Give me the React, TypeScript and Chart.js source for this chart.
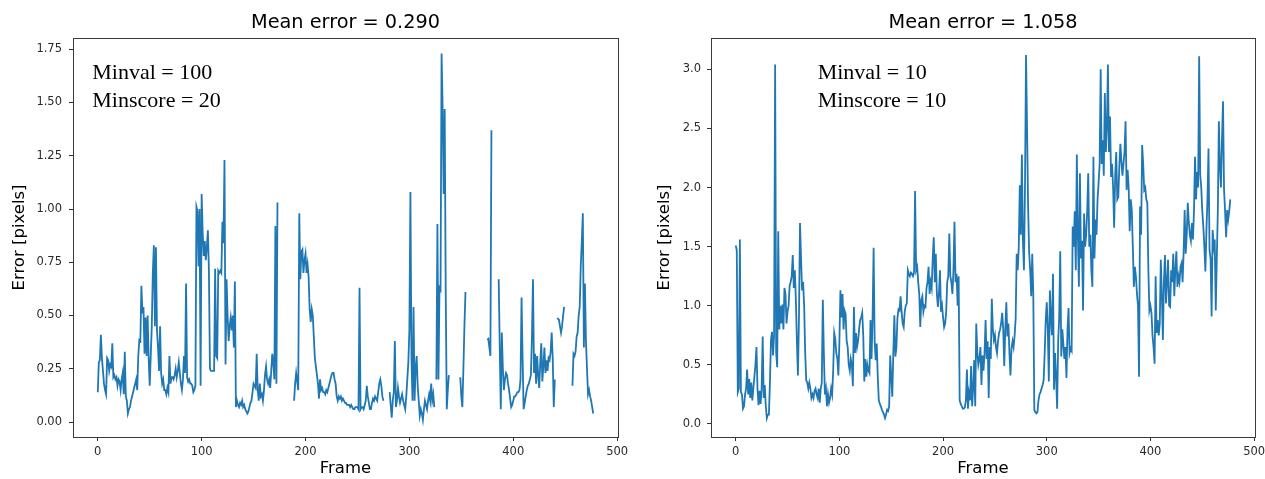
import React, { useEffect, useRef } from "react";
import { Chart, registerables } from "chart.js";

Chart.register(...registerables);
Chart.defaults.font.family = "'DejaVu Sans', sans-serif";

// ---- data (frame index = array index) ----
const leftError: (number | null)[] = [
  // 0
  0.14, 0.28, 0.29, 0.41, 0.30, 0.24, 0.18, 0.15, 0.13, 0.30,
  // 10
  0.29, 0.24, 0.27, 0.26, 0.37, 0.21, 0.22, 0.20, 0.21, 0.17,
  // 20
  0.20, 0.19, 0.15, 0.20, 0.23, 0.13, 0.33, 0.12, 0.10, 0.04,
  // 30
  0.06, 0.07, 0.10, 0.12, 0.14, 0.16, 0.18, 0.20, 0.15, 0.31,
  // 40
  0.385, 0.38, 0.64, 0.51, 0.54, 0.32, 0.49, 0.31, 0.50, 0.30,
  // 50
  0.17, 0.31, 0.45, 0.70, 0.83, 0.45, 0.82, 0.43, 0.35, 0.24,
  // 60
  0.45, 0.23, 0.18, 0.20, 0.15, 0.15, 0.13, 0.16, 0.14, 0.31,
  // 70
  0.18, 0.21, 0.21, 0.20, 0.22, 0.25, 0.21, 0.24, 0.28, 0.23,
  // 80
  0.18, 0.15, 0.20, 0.31, 0.23, 0.65, 0.21, 0.19, 0.20, 0.18,
  // 90
  0.18, 0.17, 0.14, 0.15, 0.17, 1.01, 0.99, 0.73, 1.00, 0.17,
  // 100
  1.07, 0.89, 0.78, 0.85, 0.76, 0.82, 0.90, 0.71, 0.25, 0.24,
  // 110
  0.24, 0.24, 0.24, 0.72, 0.31, 0.30, 0.71, 0.70, 0.71, 0.70,
  // 120
  0.94, 0.84, 1.23, 0.27, 0.67, 0.50, 0.38, 0.45, 0.49, 0.43,
  // 130
  0.50, 0.35, 0.66, 0.07, 0.10, 0.08, 0.07, 0.09, 0.08, 0.10,
  // 140
  0.07, 0.08, 0.06, 0.05, 0.04, 0.05, 0.07, 0.09, 0.10, 0.14,
  // 150
  0.18, 0.17, 0.16, 0.32, 0.15, 0.10, 0.18, 0.12, 0.13, 0.10,
  // 160
  0.15, 0.22, 0.26, 0.20, 0.18, 0.20, 0.16, 0.24, 0.32, 0.28,
  // 170
  0.20, 0.92, 0.18, 1.03, null, null, null, null, null, null,
  // 180
  null, null, null, null, null, null, null, null, null, 0.10,
  // 190
  0.18, 0.23, 0.19, 0.15, 0.98, 0.67, 0.80, 0.81, 0.70, 0.76,
  // 200
  0.79, 0.70, 0.74, 0.68, 0.53, 0.47, 0.53, 0.50, 0.40, 0.30,
  // 210
  0.26, 0.22, 0.18, 0.11, 0.20, 0.15, 0.16, 0.14, 0.14, 0.13,
  // 220
  0.15, 0.14, 0.16, 0.18, 0.20, 0.22, 0.23, 0.23, 0.20, 0.18,
  // 230
  0.12, 0.10, 0.12, 0.11, 0.12, 0.10, 0.11, 0.10, 0.09, 0.09,
  // 240
  0.08, 0.08, 0.08, 0.07, 0.08, 0.07, 0.06, 0.06, 0.07, 0.07,
  // 250
  0.07, 0.06, 0.63, 0.06, 0.07, 0.07, 0.06, 0.08, 0.10, 0.17,
  // 260
  0.12, 0.09, 0.06, 0.06, 0.09, 0.11, 0.10, 0.12, 0.11, 0.10,
  // 270
  0.14, 0.18, 0.20, 0.17, 0.12, 0.10, null, null, null, null,
  // 280
  null, 0.14, 0.08, 0.02, 0.10, 0.14, 0.38, 0.07, 0.10, 0.16,
  // 290
  0.12, 0.09, 0.11, 0.13, 0.10, 0.08, 0.06, 0.12, 0.20, 0.28,
  // 300
  0.43, 1.08, 0.30, 0.10, 0.54, 0.10, 0.25, 0.31, 0.17, 0.10,
  // 310
  0.03, 0.06, 0.04, 0.01, 0.06, 0.10, 0.08, 0.06, 0.10, 0.13,
  // 320
  0.10, 0.18, 0.10, 0.13, 0.07, null, 0.20, 0.93, 0.20, 0.63,
  // 330
  0.62, 1.73, 1.48, 1.07, 1.47, 0.60, 0.06, 0.15, 0.22, null,
  // 340
  null, null, null, null, null, null, null, null, null, 0.21,
  // 350
  0.12, 0.07, 0.25, 0.45, 0.61, null, null, null, null, null,
  // 360
  null, null, null, null, null, null, null, null, null, null,
  // 370
  null, null, null, null, null, 0.385, 0.39, 0.35, 0.31, 1.37,
  // 380
  null, null, null, null, null, null, 0.67, 0.35, 0.06, 0.42,
  // 390
  0.25, 0.15, 0.20, 0.23, 0.22, 0.18, 0.15, 0.11, 0.07, 0.08,
  // 400
  0.10, 0.12, 0.12, 0.13, 0.14, 0.14, 0.15, 0.20, 0.585, 0.30,
  // 410
  0.06, 0.09, 0.12, 0.15, 0.17, 0.18, 0.20, 0.22, 0.40, 0.67,
  // 420
  0.23, 0.32, 0.18, 0.31, 0.22, 0.16, 0.28, 0.37, 0.19, 0.26,
  // 430
  0.35, 0.23, 0.29, 0.24, 0.30, 0.29, 0.33, 0.42, 0.30, 0.07,
  // 440
  0.20, null, 0.487, 0.485, 0.48, 0.45, 0.42, 0.45, 0.50, 0.54,
  // 450
  null, null, null, null, null, null, null, 0.17, 0.32, 0.31,
  // 460
  0.33, 0.40, 0.42, 0.50, 0.54, 0.73, 0.85, 0.98, 0.35, 0.65,
  // 470
  0.38, 0.25, 0.13, 0.15, 0.12, 0.10, 0.07, 0.04,
];

const rightError: (number | null)[] = [
  // 0
  1.51, 1.47, 0.27, 0.30, 1.56, 0.27, 0.25, 0.13, 0.15, 0.25,
  // 10
  0.30, 0.46, 0.25, 0.38, 0.22, 0.35, 0.20, 0.30, 0.40, 0.50,
  // 20
  0.65, 0.30, 0.16, 0.28, 0.17, 0.30, 0.74, 0.22, 0.33, 0.15,
  // 30
  0.05, 0.08, 0.08, 0.35, 0.71, 0.78, 0.58, 0.75, 3.04, 0.60,
  // 40
  0.48, 1.63, 0.80, 1.00, 0.85, 1.01, 0.80, 1.15, 1.10, 0.85,
  // 50
  0.95, 1.00, 1.17, 1.20, 1.25, 1.43, 1.15, 1.30, 1.05, 0.70,
  // 60
  0.41, 0.90, 1.70, 1.40, 1.13, 1.20, 1.00, 0.60, 0.37, 0.35,
  // 70
  0.30, 0.35, 0.30, 0.22, 0.25, 0.22, 0.28, 0.30, 0.25, 0.22,
  // 80
  0.30, 0.18, 0.30, 0.35, 1.05, 0.60, 0.25, 0.30, 0.15, 0.25,
  // 90
  0.18, 0.22, 0.30, 0.25, 0.45, 0.77, 0.72, 0.60, 0.55, 0.41,
  // 100
  0.70, 1.13, 0.90, 1.10, 0.80, 0.96, 0.93, 0.70, 0.65, 0.50,
  // 110
  0.45, 0.55, 0.50, 0.32, 0.99, 0.60, 0.77, 0.65, 0.70, 0.80,
  // 120
  0.88, 0.90, 0.94, 0.75, 0.36, 0.55, 0.40, 0.50, 0.45, 0.43,
  // 130
  0.88, 0.55, 0.90, 1.49, 0.70, 0.54, 0.68, 0.40, 0.20, 0.17,
  // 140
  0.15, 0.12, 0.10, 0.08, 0.05, 0.08, 0.12, 0.11, 0.15, 0.58,
  // 150
  0.40, 0.23, 0.60, 0.92, 0.57, 0.65, 0.90, 0.97, 0.96, 1.08,
  // 160
  0.95, 0.85, 0.82, 0.95, 1.00, 1.02, 1.30, 1.27, 1.25, 1.28,
  // 170
  1.27, 1.25, 1.28, 1.97, 1.30, 1.33, 1.20, 1.10, 0.82, 1.05,
  // 180
  1.08, 0.95, 1.00, 0.99, 1.15, 1.20, 1.33, 1.10, 1.20, 1.15,
  // 190
  1.40, 1.58, 1.20, 1.44, 1.10, 0.99, 1.10, 1.30, 0.95, 1.00,
  // 200
  0.90, 0.82, 0.85, 0.95, 1.20, 1.25, 1.61, 1.25, 1.20, 1.10,
  // 210
  1.30, 1.71, 1.20, 1.27, 1.00, 1.25, 0.20, 0.17, 0.15, 0.13,
  // 220
  0.13, 0.14, 0.20, 0.46, 0.13, 0.26, 0.20, 0.49, 0.15, 0.30,
  // 230
  0.54, 0.15, 0.85, 0.60, 0.50, 0.55, 0.65, 0.33, 0.58, 0.45,
  // 240
  0.60, 0.88, 0.55, 0.70, 0.22, 0.65, 0.55, 1.06, 0.80, 0.71,
  // 250
  0.75, 0.65, 0.60, 0.70, 0.77, 0.80, 0.85, 0.94, 0.80, 0.49,
  // 260
  0.80, 1.03, 0.74, 0.85, 0.60, 0.41, 0.64, 0.70, 0.65, 0.75,
  // 270
  0.89, 1.44, 1.30, 1.50, 2.02, 1.60, 2.28, 1.55, 1.30, 2.00,
  // 280
  3.12, 2.50, 1.84, 1.45, 1.30, 1.08, 1.44, 1.10, 0.12, 0.10,
  // 290
  0.09, 0.10, 0.20, 0.25, 0.27, 0.30, 0.33, 0.37, 0.60, 0.88,
  // 300
  1.03, 0.80, 0.36, 1.13, 0.90, 0.75, 1.27, 0.29, 0.60, 0.40,
  // 310
  0.13, 0.70, 0.90, 1.46, 0.57, 0.80, 0.68, 0.55, 0.65, 0.39,
  // 320
  0.80, 0.98, 0.60, 0.64, 0.62, 1.67, 1.50, 1.80, 1.30, 2.28,
  // 330
  1.60, 1.16, 2.12, 1.40, 1.55, 0.96, 1.78, 1.50, 1.60, 1.80,
  // 340
  2.12, 1.50, 1.60, 1.30, 1.16, 2.26, 1.40, 1.73, 1.60, 1.90,
  // 350
  2.04, 2.20, 3.00, 2.20, 2.40, 2.10, 2.80, 2.30, 2.50, 3.04,
  // 360
  2.30, 2.60, 2.09, 2.20, 2.00, 1.66, 2.10, 2.30, 1.90, 1.92,
  // 370
  2.18, 2.37, 2.22, 2.10, 2.20, 2.30, 2.56, 1.98, 2.15, 2.00,
  // 380
  1.63, 1.90, 1.81, 1.50, 1.16, 1.33, 1.25, 1.10, 1.00, 0.40,
  // 390
  1.84, 1.60, 2.36, 2.20, 1.98, 2.00, 1.90, 1.87, 1.30, 0.96,
  // 400
  1.00, 0.94, 0.75, 0.65, 0.51, 1.25, 0.77, 0.88, 0.75, 0.85,
  // 410
  1.39, 1.10, 0.71, 1.20, 1.43, 1.02, 1.20, 1.39, 1.00, 0.99,
  // 420
  1.30, 1.20, 1.44, 1.08, 1.30, 1.46, 1.16, 1.25, 1.20, 1.33,
  // 430
  1.36, 1.20, 1.45, 1.81, 1.44, 1.60, 1.87, 1.71, 1.60, 1.55,
  // 440
  1.70, 1.56, 1.80, 2.26, 1.90, 2.13, 2.00, 3.11, 2.11, 2.00,
  // 450
  1.80, 1.67, 1.50, 1.29, 1.64, 1.90, 2.33, 1.47, 1.40, 0.91,
  // 460
  1.64, 1.50, 1.56, 0.96, 1.40, 1.80, 2.56, 2.18, 2.00, 2.40,
  // 470
  2.73, 1.98, 1.80, 1.58, 1.81, 1.73, 1.80, 1.90,
];

const xTicks = [0, 100, 200, 300, 400, 500];
const leftYTicks = [0, 0.25, 0.5, 0.75, 1.0, 1.25, 1.5, 1.75];
const rightYTicks = [0, 0.5, 1.0, 1.5, 2.0, 2.5, 3.0];
const leftTitle = "Mean error = 0.290";
const rightTitle = "Mean error = 1.058";
const leftNote = ["Minval = 100", "Minscore = 20"];
const rightNote = ["Minval = 10", "Minscore = 10"];
const xLabel = "Frame";
const yLabel = "Error [pixels]";

const X_MIN = -23.85;
const X_MAX = 500.85;

type PanelSpec = {
  values: (number | null)[];
  yTicks: number[];
  yMin: number;
  yMax: number;
  decimals: number;
  title: string;
  note: string[];
  canvasLeft: number;
  canvasWidth: number;
  areaLeft: number;
  areaRight: number;
  noteX: number;
  yTitlePad: number;
  yTickPad: number;
};

const framePlugin = {
  id: "frameNote",
  afterDraw(chart: any, _args: any, opts: any) {
    const { ctx, chartArea: a } = chart;
    ctx.save();
    ctx.strokeStyle = "#3a3a3a";
    ctx.lineWidth = 1;
    const l = Math.round(a.left) + 0.5;
    const t = Math.round(a.top) + 0.5;
    const r = Math.round(a.right) + 0.5;
    const b = Math.round(a.bottom) + 0.5;
    ctx.strokeRect(l, t, r - l, b - t);
    ctx.fillStyle = "#000";
    ctx.font = "22px 'Liberation Serif', 'Times New Roman', serif";
    ctx.textBaseline = "alphabetic";
    ctx.textAlign = "left";
    (opts.lines as string[]).forEach((s, i) => {
      ctx.fillText(s, opts.x, opts.y0 + i * opts.dy);
    });
    ctx.restore();
  },
};

function Panel({ spec }: { spec: PanelSpec }) {
  const ref = useRef<HTMLCanvasElement>(null);
  useEffect(() => {
    const canvas = ref.current;
    if (!canvas) return;
    const chart = new Chart(canvas, {
      type: "line",
      data: {
        datasets: [
          {
            data: spec.values.map((v, i) => ({ x: i, y: v })) as any,
            borderColor: "#1f77b4",
            borderWidth: 1.8,
            pointRadius: 0,
            pointHoverRadius: 0,
            tension: 0,
            spanGaps: false,
            fill: false,
          },
        ],
      },
      options: {
        animation: false,
        responsive: false,
        devicePixelRatio: 1,
        events: [],
        layout: {
          padding: { left: 0, top: 0, bottom: 0, right: spec.canvasWidth - spec.areaRight },
        },
        plugins: {
          legend: { display: false },
          tooltip: { enabled: false },
          title: {
            display: true,
            text: spec.title,
            fullSize: false,
            color: "#000",
            font: { size: 19.3, weight: "normal" as any },
            padding: { top: 11.1, bottom: 3.7 },
          },
          frameNote: { lines: spec.note, x: spec.noteX, y0: 79.3, dy: 27.4 },
        } as any,
        scales: {
          x: {
            type: "linear",
            position: "bottom",
            min: X_MIN,
            max: X_MAX,
            afterBuildTicks: (s: any) => {
              s.ticks = xTicks.map((v) => ({ value: v }));
            },
            afterFit: (s: any) => {
              s.height = 42;
            },
            ticks: {
              autoSkip: false,
              maxRotation: 0,
              padding: 4.2,
              color: "#2a2a2a",
              font: { size: 11.5 },
              callback: (v: any) => String(v),
            },
            grid: {
              display: true,
              drawOnChartArea: false,
              drawTicks: true,
              tickLength: 4,
              color: "#333",
            },
            border: { display: false },
            title: {
              display: true,
              text: xLabel,
              color: "#000",
              font: { size: 16.5 },
              padding: { top: 0, bottom: 0 },
            },
          },
          y: {
            type: "linear",
            position: "left",
            min: spec.yMin,
            max: spec.yMax,
            afterBuildTicks: (s: any) => {
              s.ticks = spec.yTicks.map((v) => ({ value: v }));
            },
            afterFit: (s: any) => {
              s.width = spec.areaLeft;
            },
            ticks: {
              autoSkip: false,
              padding: spec.yTickPad,
              color: "#2a2a2a",
              font: { size: 11.5 },
              callback: (v: any) => Number(v).toFixed(spec.decimals),
            },
            grid: {
              display: true,
              drawOnChartArea: false,
              drawTicks: true,
              tickLength: 4,
              color: "#333",
            },
            border: { display: false },
            title: {
              display: true,
              text: yLabel,
              color: "#000",
              font: { size: 16.5 },
              padding: { top: spec.yTitlePad, bottom: 0 },
            },
          },
        },
      },
      plugins: [framePlugin as any],
    });
    return () => chart.destroy();
  }, [spec]);

  return (
    <canvas
      ref={ref}
      width={spec.canvasWidth}
      height={479}
      style={{
        position: "absolute",
        left: spec.canvasLeft,
        top: 0,
        width: spec.canvasWidth,
        height: 479,
        display: "block",
      }}
    />
  );
}

const leftSpec: PanelSpec = {
  values: leftError,
  yTicks: leftYTicks,
  yMin: -0.0704,
  yMax: 1.803,
  decimals: 2,
  title: leftTitle,
  note: leftNote,
  canvasLeft: 0,
  canvasWidth: 640,
  areaLeft: 73,
  areaRight: 618,
  noteX: 92.3,
  yTitlePad: 10,
  yTickPad: 7,
};

const rightSpec: PanelSpec = {
  values: rightError,
  yTicks: rightYTicks,
  yMin: -0.11,
  yMax: 3.265,
  decimals: 1,
  title: rightTitle,
  note: rightNote,
  canvasLeft: 640,
  canvasWidth: 645,
  areaLeft: 71,
  areaRight: 615,
  noteX: 177.7,
  yTitlePad: 14.5,
  yTickPad: 6,
};

export default function App() {
  return (
    <div
      style={{
        position: "fixed",
        left: 0,
        top: 0,
        width: 1265,
        height: 479,
        overflow: "hidden",
        background: "#fff",
      }}
    >
      <Panel spec={leftSpec} />
      <Panel spec={rightSpec} />
    </div>
  );
}
